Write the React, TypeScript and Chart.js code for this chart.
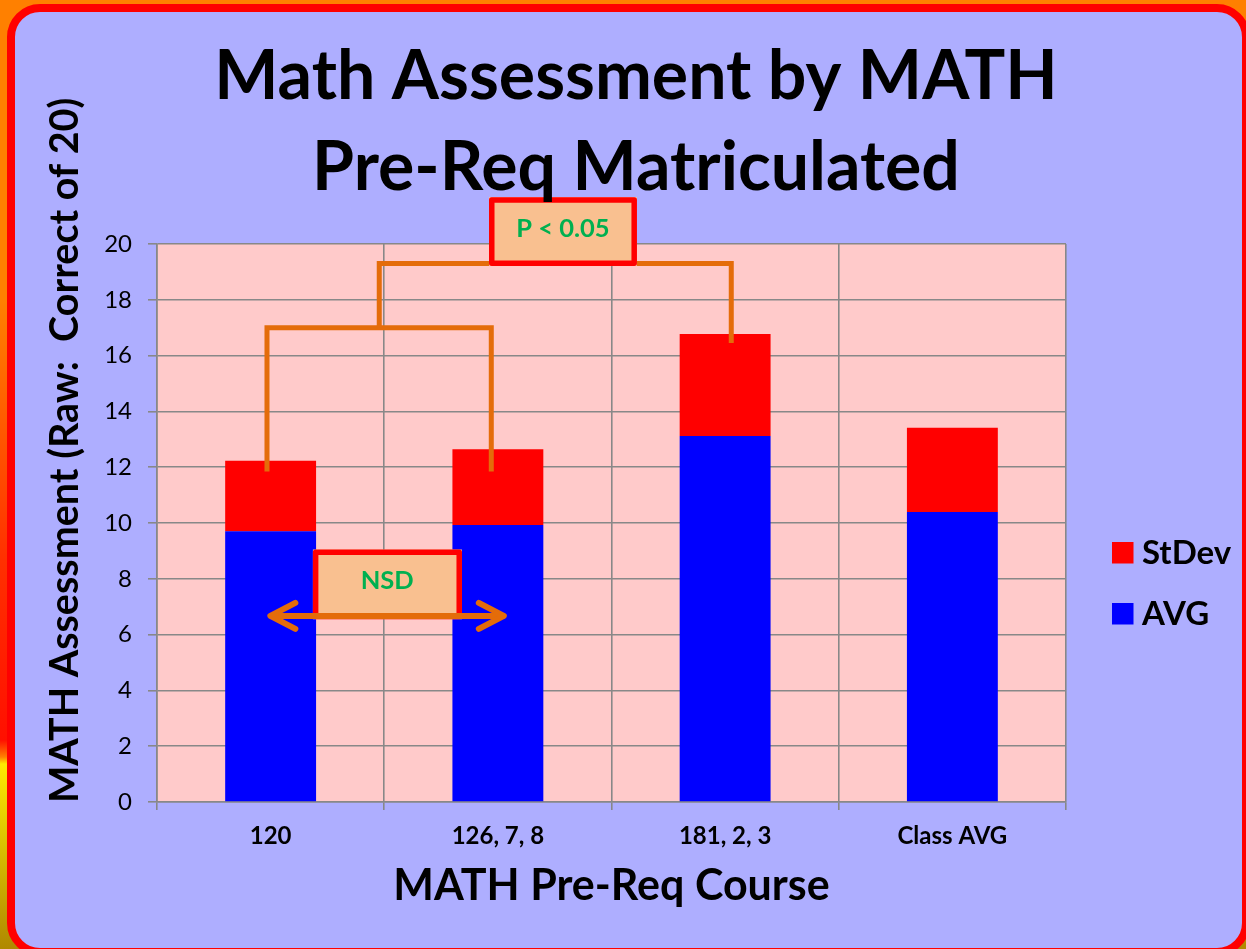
import React, { useEffect, useRef } from 'react';
import { Chart, registerables } from 'chart.js';

Chart.register(...registerables);

// ---- data ----
const categories = ['120', '126, 7, 8', '181, 2, 3', 'Class AVG'];
const avgValues = [9.7, 9.93, 13.12, 10.39];
const stdevValues = [2.53, 2.71, 3.65, 3.02];
const seriesNames = ['AVG', 'StDev'];
const yMin = 0;
const yMax = 20;
const yStep = 2;

const titleLines = ['Math Assessment by MATH', 'Pre-Req Matriculated'];
const yAxisTitle = 'MATH Assessment (Raw:  Correct of 20)';
const xAxisTitle = 'MATH Pre-Req Course';

// annotation geometry in data coordinates: [category index, value]
const bracketLower = [[-0.016, 11.85], [-0.016, 17.0], [0.971, 17.0], [0.971, 11.85]];
const bracketUpper = [[0.478, 17.0], [0.478, 19.3], [2.027, 19.3], [2.027, 16.45]];
const pBox = { x0: 0.961, x1: 1.612, y0: 21.68, y1: 19.21, label: 'P < 0.05', tx: 1.286, ty: 20.55 };
const nsdBox = { x0: 0.186, x1: 0.842, y0: 9.05, y1: 6.55, label: 'NSD', tx: 0.513, ty: 7.93 };
const nsdArrow = { x0: -0.01, x1: 1.035, y: 6.67 };

const FONT = 'Lato, "Open Sans", sans-serif';
const ORANGE = '#E46C0A';
const GREEN = '#00B050';
const PEACH = '#F9C090';
const GRID = '#888888';

const decorPlugin = {
  id: 'decor',
  beforeDraw(chart: any) {
    const { ctx, chartArea: a } = chart;
    ctx.save();
    ctx.fillStyle = '#FFCACA';
    ctx.fillRect(a.left, a.top, a.right - a.left, a.bottom - a.top);
    ctx.restore();
  },
  afterDatasetsDraw(chart: any) {
    const { ctx } = chart;
    const X = (v: number) => chart.scales.x.getPixelForValue(v);
    const Y = (v: number) => chart.scales.y.getPixelForValue(v);
    ctx.save();
    // brackets
    ctx.strokeStyle = ORANGE;
    ctx.lineWidth = 5;
    ctx.lineJoin = 'miter';
    ctx.lineCap = 'butt';
    [bracketLower, bracketUpper].forEach((pts) => {
      ctx.beginPath();
      pts.forEach((p, i) => {
        const px = X(p[0]);
        const py = Y(p[1]);
        if (i === 0) ctx.moveTo(px, py);
        else ctx.lineTo(px, py);
      });
      ctx.stroke();
    });
    // boxes
    const drawBox = (b: any) => {
      const l = X(b.x0), r = X(b.x1), t = Y(b.y0), bt = Y(b.y1);
      const lw = 5.5;
      ctx.fillStyle = PEACH;
      ctx.fillRect(l, t, r - l, bt - t);
      ctx.strokeStyle = '#FF0000';
      ctx.lineWidth = lw;
      ctx.lineJoin = 'round';
      ctx.strokeRect(l + lw / 2, t + lw / 2, r - l - lw, bt - t - lw);
      ctx.fillStyle = GREEN;
      ctx.font = `bold 25.5px ${FONT}`;
      ctx.textAlign = 'center';
      ctx.textBaseline = 'middle';
      ctx.fillText(b.label, X(b.tx), Y(b.ty));
    };
    drawBox(pBox);
    drawBox(nsdBox);
    // arrow
    const ax0 = X(nsdArrow.x0), ax1 = X(nsdArrow.x1), ay = Y(nsdArrow.y);
    ctx.strokeStyle = ORANGE;
    ctx.lineWidth = 6;
    ctx.lineCap = 'round';
    ctx.lineJoin = 'round';
    ctx.beginPath();
    ctx.moveTo(ax0 + 3, ay);
    ctx.lineTo(ax1 - 3, ay);
    ctx.stroke();
    ctx.beginPath();
    ctx.moveTo(ax0 + 27, ay - 13);
    ctx.lineTo(ax0 + 2, ay);
    ctx.lineTo(ax0 + 27, ay + 13);
    ctx.moveTo(ax1 - 27, ay - 13);
    ctx.lineTo(ax1 - 2, ay);
    ctx.lineTo(ax1 - 27, ay + 13);
    ctx.stroke();
    ctx.restore();
  },
  afterDraw(chart: any) {
    const { ctx, chartArea: a } = chart;
    ctx.save();
    ctx.fillStyle = '#000000';
    // main title
    ctx.font = `bold 68px ${FONT}`;
    ctx.textAlign = 'center';
    ctx.textBaseline = 'alphabetic';
    ctx.fillText(titleLines[0], 636, 99);
    ctx.fillText(titleLines[1], 636, 190);
    // x axis title
    ctx.font = `bold 43px ${FONT}`;
    ctx.fillText(xAxisTitle, (a.left + a.right) / 2, 900);
    // y axis title
    ctx.save();
    ctx.translate(78, a.bottom + 1);
    ctx.rotate(-Math.PI / 2);
    ctx.font = `bold 39.5px ${FONT}`;
    ctx.textAlign = 'left';
    ctx.fillText(yAxisTitle, 0, 0);
    ctx.restore();
    // legend (reverse order: StDev on top)
    const ds = chart.data.datasets;
    const items = [ds[1], ds[0]];
    ctx.font = `bold 33px ${FONT}`;
    ctx.textAlign = 'left';
    items.forEach((d: any, i: number) => {
      const top = 542 + i * 61;
      ctx.fillStyle = d.backgroundColor;
      ctx.fillRect(a.right + 46, top, 21.5, 21.5);
      ctx.fillStyle = '#000000';
      ctx.fillText(d.label, a.right + 76, top + 21.5);
    });
    ctx.restore();
  },
};

export default function App() {
  const ref = useRef<HTMLCanvasElement | null>(null);
  useEffect(() => {
    document.body.style.margin = '0';
    if (!ref.current) return;
    const chart = new Chart(ref.current, {
      type: 'bar',
      data: {
        labels: categories,
        datasets: [
          { label: seriesNames[0], data: avgValues, backgroundColor: '#0000FF', borderWidth: 0, barPercentage: 0.4, categoryPercentage: 1.0 },
          { label: seriesNames[1], data: stdevValues, backgroundColor: '#FF0000', borderWidth: 0, barPercentage: 0.4, categoryPercentage: 1.0 },
        ],
      },
      options: {
        responsive: false,
        animation: false,
        devicePixelRatio: 1,
        layout: { padding: { left: 20, right: 180, top: 244, bottom: 0 } },
        plugins: {
          legend: { display: false },
          title: { display: false },
          tooltip: { enabled: false },
        },
        scales: {
          x: {
            stacked: true,
            afterFit: (s: any) => { s.height = 147; },
            grid: { color: GRID, lineWidth: 1.6, offset: true, tickLength: 8, drawTicks: true },
            border: { color: GRID, width: 1.6 },
            ticks: { color: '#000000', font: { family: FONT, size: 24, weight: 'bold' }, padding: 12, maxRotation: 0 },
          },
          y: {
            stacked: true,
            min: yMin,
            max: yMax,
            afterFit: (s: any) => { s.width = 137; },
            grid: { color: GRID, lineWidth: 1.6, tickLength: 9, drawTicks: true },
            border: { color: GRID, width: 1.6 },
            ticks: { stepSize: yStep, color: '#000000', font: { family: FONT, size: 24 }, padding: 16 },
          },
        },
      },
      plugins: [decorPlugin],
    } as any);
    return () => chart.destroy();
  }, []);

  return (
    <div
      style={{
        position: 'relative',
        width: 1246,
        height: 949,
        overflow: 'hidden',
        background:
          'linear-gradient(to bottom, #FF8000 0px, #FF8000 300px, #FF3000 560px, #FF1000 740px, #FF5000 750px, #FF8000 757px, #FFE800 764px, #E0C800 830px, #B08800 949px)',
      }}
    >
      <div
        style={{
          position: 'absolute',
          left: 7,
          top: 4,
          width: 1243,
          height: 952,
          boxSizing: 'border-box',
          border: '8px solid #FF0000',
          borderRadius: 33,
          background: '#AEAEFF',
        }}
      />
      <canvas ref={ref} width={1246} height={949} style={{ position: 'absolute', left: 0, top: 0 }} />
    </div>
  );
}
